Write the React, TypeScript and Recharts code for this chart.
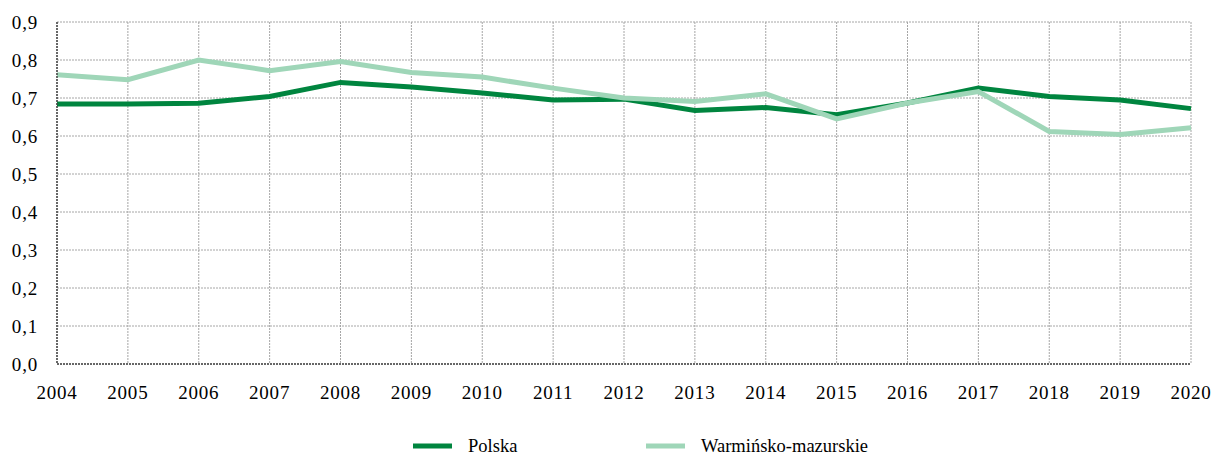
import React from "react";
import { LineChart, Line, XAxis, YAxis, CartesianGrid } from "recharts";

if (typeof document !== "undefined") {
  document.body.style.margin = "0";
}

const years = ["2004","2005","2006","2007","2008","2009","2010","2011","2012","2013","2014","2015","2016","2017","2018","2019","2020"];
const polska = [0.684,0.684,0.686,0.704,0.741,0.729,0.713,0.695,0.697,0.667,0.675,0.656,0.687,0.726,0.704,0.695,0.672];
const warminsko = [0.761,0.748,0.800,0.772,0.796,0.767,0.755,0.726,0.700,0.691,0.711,0.645,0.687,0.717,0.612,0.604,0.622];
const yTicks = [0,0.1,0.2,0.3,0.4,0.5,0.6,0.7,0.8,0.9];
const seriesNames = ["Polska", "Warmińsko-mazurskie"];

const DARK = "#00853f";
const LIGHT = "#9fd6b8";
const COLORS = [DARK, LIGHT];
const FONT = "'Liberation Serif', 'Times New Roman', serif";

const data = years.map((y, i) => ({ year: y, [seriesNames[0]]: polska[i], [seriesNames[1]]: warminsko[i] }));

const tickStyle = { fontSize: 19, fill: "#000", fontFamily: FONT, letterSpacing: 0.8 };

export default function App() {
  const legendX = [413, 646];
  return (
    <div style={{ position: "relative", width: 1216, height: 456 }}>
      <LineChart width={1216} height={456} data={data} margin={{ top: 22, right: 25, bottom: 62, left: 0 }}>
        <CartesianGrid stroke="#a6a6a6" strokeDasharray="2 1" />
        <XAxis
          dataKey="year"
          height={30}
          tickLine={false}
          tickSize={0}
          tickMargin={22}
          axisLine={{ stroke: "#444", strokeDasharray: "2 1", strokeWidth: 1.5 }}
          tick={tickStyle}
          interval={0}
        />
        <YAxis
          width={57}
          domain={[0, 0.9]}
          ticks={yTicks}
          tickFormatter={(v: number) => v.toFixed(1).replace(".", ",")}
          tickLine={false}
          tickSize={0}
          tickMargin={19}
          axisLine={{ stroke: "#444", strokeDasharray: "2 1", strokeWidth: 1.5 }}
          tick={tickStyle}
          interval={0}
        />
        <Line type="linear" dataKey={seriesNames[0]} stroke={DARK} strokeWidth={5} dot={false} isAnimationActive={false} />
        <Line type="linear" dataKey={seriesNames[1]} stroke={LIGHT} strokeWidth={5} dot={false} isAnimationActive={false} />
      </LineChart>
      <svg width={1216} height={30} style={{ position: "absolute", left: 0, top: 430 }}>
        {seriesNames.map((name, i) => (
          <g key={name}>
            <line x1={legendX[i]} x2={legendX[i] + 39} y1={16} y2={16} stroke={COLORS[i]} strokeWidth={5} />
            <text x={legendX[i] + 55} y={22} fontFamily={FONT} fontSize={18.5} fill="#000">{name}</text>
          </g>
        ))}
      </svg>
    </div>
  );
}
